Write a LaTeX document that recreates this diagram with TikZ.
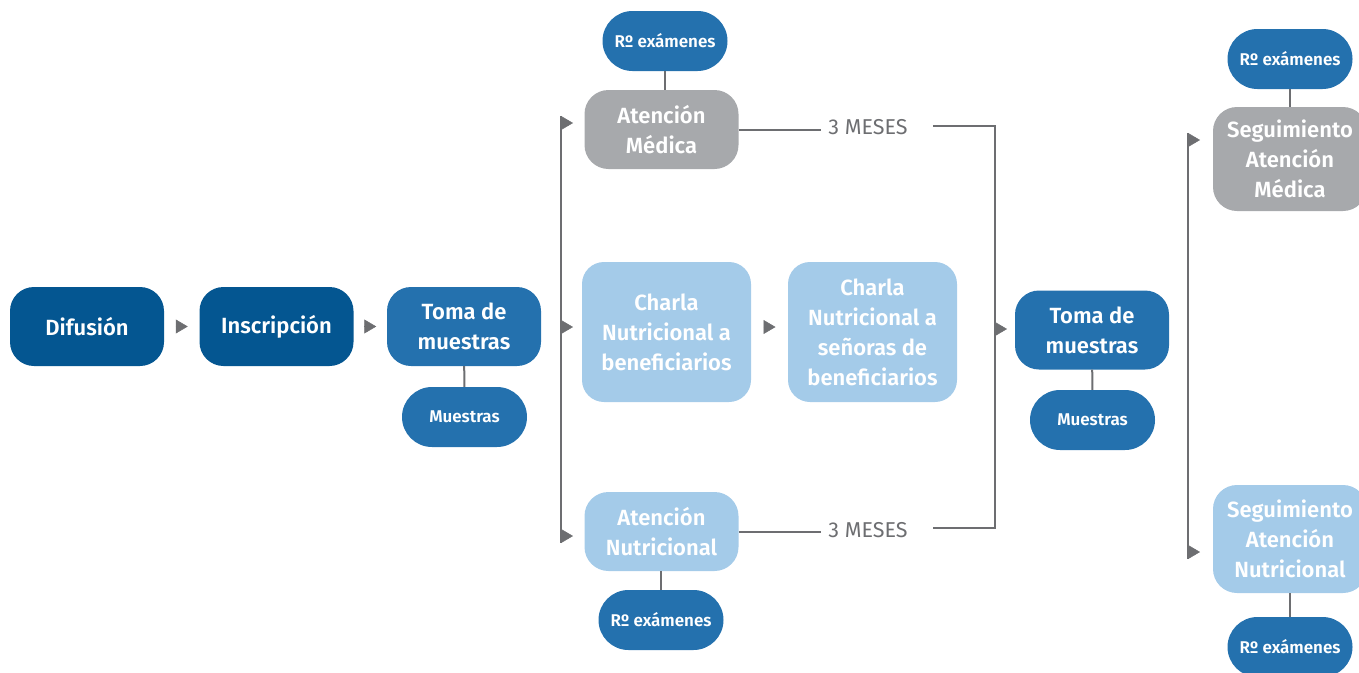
\documentclass[tikz,border=0pt]{standalone}
\usepackage{fontspec}
\setmainfont{Fira Sans}[BoldFont={Fira Sans SemiBold}]
\usetikzlibrary{arrows.meta,calc}
\definecolor{cDark}{HTML}{045691}
\definecolor{cMid}{HTML}{2471AE}
\definecolor{cGrey}{HTML}{A7A9AC}
\definecolor{cLight}{HTML}{A4CBE9}
\definecolor{cLine}{HTML}{6D6E71}
\begin{document}
\begin{tikzpicture}[x=1pt,y=-1pt,
  box/.style={rounded corners=24pt, minimum width=154pt, minimum height=79pt, text=white,
    font=\bfseries\fontsize{22}{30}\selectfont, align=center, inner sep=0pt},
  dbox/.style={box, fill=cDark},
  mbox/.style={box, fill=cMid},
  gbox/.style={box, fill=cGrey},
  lbox/.style={box, fill=cLight},
  pill/.style={rounded corners=30pt, minimum width=125pt, minimum height=60pt, fill=cMid,
    text=white, font=\bfseries\fontsize{17}{20}\selectfont, inner sep=0pt},
  meses/.style={text=cLine, font=\fontsize{21.5}{24}\selectfont, inner sep=0pt},
  conn/.style={draw=cLine, line width=2pt},
  tip/.style={draw=cLine, line width=0.5pt, -{Triangle[length=12pt,width=14pt]}, fill=cLine},
]
\useasboundingbox (0,0) rectangle (1359,672);
\clip (0,0) rectangle (1359,672);

% first row
\node[dbox] (dif) at (87,326.5) {Difusión};
\node[dbox] (ins) at (276.5,326.5) {Inscripción};
\node[mbox] (tm1) at (464,326.5) {Toma de\\muestras};
\node[pill] (mu1) at (464.5,417) {Muestras};
\draw[conn] (tm1) -- (mu1);
\draw[tip] ($(dif.east)!0.5!(ins.west)+(-6,0)$) -- ++(12,0);
\draw[tip] ($(ins.east)!0.5!(tm1.west)+(-6,0)$) -- ++(12,0);

% first bus
\coordinate (b1t) at (561,116);
\coordinate (b1b) at (561,543);
\draw[conn] (b1t) -- (b1b);

\node[gbox] (am) at (661.5,129.5) {Atención\\Médica};
\node[pill] (rx1) at (665,41) {Rº exámenes};
\draw[conn] (rx1.south) -- (rx1.south |- am.north);

\node[lbox, minimum width=169pt, minimum height=140pt, rounded corners=22pt] (ch1) at (666.5,332) {Charla\\Nutricional a\\beneficiarios};
\node[lbox, minimum width=169pt, minimum height=140pt, rounded corners=22pt] (ch2) at (872.5,332) {Charla\\Nutricional a\\señoras de\\beneficiarios};

\node[lbox] (an) at (661.5,531.5) {Atención\\Nutricional};
\node[pill] (rx2) at (661,620) {Rº exámenes};
\draw[conn] (an.south -| rx2) -- (rx2.north);

\draw[tip] (b1t |- 0,123) -- ++(12,0);
\draw[tip] (b1t |- 0,327) -- ++(12,0);
\draw[tip] (b1t |- 0,536) -- ++(12,0);
\draw[tip] ($(ch1.east)!0.5!(ch2.west)+(-6,-5)$) -- ++(12,0);

% 3 meses
\node[meses] (m1) at (868,127.5) {3 MESES};
\node[meses] (m2) at (868,530) {3 MESES};
\coordinate (b2t) at (995,126);
\coordinate (b2b) at (995,528);
\draw[conn] (am.east |- 0,130) -- ([xshift=-7pt]m1.west |- 0,130);
\draw[conn] ([xshift=25pt]m1.east |- 0,126) -- (b2t) -- (b2b) -- ([xshift=25pt]m2.east |- 0,528);
\draw[conn] (an.east |- 0,532) -- ([xshift=-7pt]m2.west |- 0,532);

\draw[tip] (b2t |- 0,329) -- ++(12,0);

\node[mbox] (tm2) at (1092,330) {Toma de\\muestras};
\node[pill] (mu2) at (1092.5,420) {Muestras};
\draw[conn] (tm2) -- (mu2);

% second bus
\coordinate (b3t) at (1188,133);
\coordinate (b3b) at (1188,559);
\draw[conn] (b3t) -- (b3b);
\draw[tip] (b3t |- 0,140) -- ++(12,0);
\draw[tip] (b3t |- 0,552) -- ++(12,0);

\node[gbox, minimum height=104pt] (sm) at (1290,159) {Seguimiento\\Atención\\Médica};
\node[pill] (rx3) at (1290,59) {Rº exámenes};
\draw[conn] (rx3) -- (sm);

\node[lbox, minimum height=108pt] (sn) at (1290,539) {Seguimiento\\Atención\\Nutricional};
\node[pill] (rx4) at (1290,647) {Rº exámenes};
\draw[conn] (sn) -- (rx4);
\end{tikzpicture}
\end{document}
